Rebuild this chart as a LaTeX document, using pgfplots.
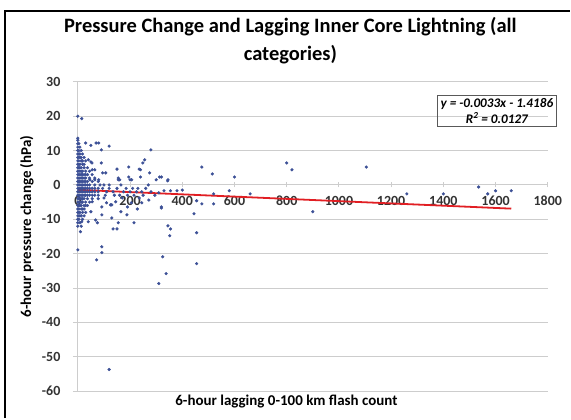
\documentclass[border=0pt]{standalone}
\usepackage{fontspec}
\setmainfont{Carlito}
\usepackage{pgfplots}
\pgfplotsset{compat=1.18}
\definecolor{pt}{RGB}{60,80,150}
\definecolor{gridc}{RGB}{205,205,205}
\definecolor{trend}{RGB}{225,30,35}
\begin{document}
\begin{tikzpicture}[x=1pt,y=1pt]
\path (-78,-27) rectangle (493,392);
\begin{axis}[at={(0,0)}, anchor=south west, scale only axis,
  width=471pt, height=310pt,
  xmin=0, xmax=1800, ymin=-60, ymax=30,
  xtick={0,200,...,1800}, ytick={-60,-50,...,30},
  axis x line=middle, axis y line=left,
  axis line style={-, draw=gridc, line width=0.9pt},
  ymajorgrids, grid style={draw=gridc, line width=0.9pt},
  tick style={draw=gridc, line width=0.9pt},
  major tick length=5pt,
  xtick align=center, ytick align=outside,
  hide obscured x ticks=false, hide obscured y ticks=false,
  xticklabel style={font=\fontsize{14}{16}\selectfont\bfseries, text=black!80, anchor=north, yshift=-5pt},
  yticklabel style={font=\fontsize{14}{16}\selectfont\bfseries, text=black!80, anchor=east, xshift=-9pt},
  /pgf/number format/assume math mode=true,
  /pgf/number format/1000 sep={},
  clip=false,
]
\addplot[only marks, mark=*, mark size=1.4pt, color=pt] coordinates {
(0,20) (15,19.3)
(0,13.6) (30,12.2) (50,11.5) (70,12.2) (80,12.2) (90,10.2) (120,11.3) (280,10.2)
(40,7.3) (90,6.4) (195,5.2) (150,4.6) (235,4.6) (55,4.4) (95,3.5) (155,2.0) (195,2.3) (240,2.3) (240,4.4) (275,3.5) (320,2.3) (300,1.5) (345,1.5) (155,1.5) (200,1.5)
(54,6.4) (256,7.3) (249,6.4) (107,3.5) (65,4.4) (313,2.3) (344,1.2) (160,1.5) (206,1.5) (46,1.5) (65,1.5) (80,1.5) (50,6.7)
(475,5.2) (515,3.2) (600,2.3) (800,6.4) (820,4.4) (1105,5.2)
(580,-1.7) (660,-2.6) (520,-2.6) (1260,-2.6) (1400,-2.6) (1535,-0.6) (1570,-2.6) (1600,-1.7) (1660,-1.7)
(330,-1.7) (355,-1.7) (380,-1.7) (400,-1.5) (310,-2.3)
(455,-4.6) (475,-5.5) (520,-5.5) (445,-8.4) (320,-6.7) (900,-7.8)
(345,-11.9) (355,-12.8) (352,-14.8) (455,-13.9)
(325,-20.9) (338,-25.8) (310,-28.7) (455,-22.9)
(120,-53.7)
(55,-4.9) (100,-3.8) (125,-5.8) (145,-4.9) (170,-3.8) (190,-6.4) (205,-5.2) (235,-3.8) (320,-6.4)
(10,-13.6) (0,-18.9) (72,-21.8) (92,-19.7) (92,-18) (135,-12.8) (150,-12.8) (155,-11) (215,-11) (130,-9.6) (75,-11) (68,-10.2) (40,-10.7) (15,-10.7)
(50,-7.8) (92,-8.7) (188,-8.7) (165,-7.8) (245,-5.2) (272,-4.4) (228,-7) (92,-6.4) (110,-5.2) (130,-5.8)
(0,13) (0,12) (0,11) (0,10) (0,9) (0,8) (0,7) (0,6) (0,5) (0,4) (0,3) (0,2) (0,1) (0,0) (0,-1) (0,-2) (0,-3) (0,-4) (0,-5) (0,-6) (0,-7) (0,-8) (0,-9) (0,-10) (0,-11) (0,-12)
(4,12) (4,10) (4,9) (4,8) (4,7) (4,6) (4,5) (4,4) (4,3) (4,2) (4,1) (4,0) (4,-1) (4,-2) (4,-3) (4,-4) (4,-5) (4,-6) (4,-7) (4,-8) (4,-9) (4,-10)
(8,11) (8,9) (8,8) (8,6) (8,5) (8,4) (8,3) (8,2) (8,1) (8,0) (8,-1) (8,-2) (8,-3) (8,-4) (8,-5) (8,-6) (8,-8) (8,-9) (8,-11)
(13,10) (13,8) (13,7) (13,5) (13,4) (13,3) (13,2) (13,1) (13,0) (13,-1) (13,-2) (13,-3) (13,-4) (13,-5) (13,-6) (13,-7) (13,-9) (13,-12)
(18,9) (18,7) (18,6) (18,4) (18,3) (18,2) (18,1) (18,0) (18,-1) (18,-2) (18,-3) (18,-4) (18,-5) (18,-7) (18,-8) (18,-10)
(24,8) (24,6) (24,5) (24,3) (24,2) (24,1) (24,0) (24,-1) (24,-2) (24,-3) (24,-4) (24,-6) (24,-7) (24,-9)
(30,7) (30,4) (30,3) (30,2) (30,1) (30,0) (30,-1) (30,-2) (30,-3) (30,-5) (30,-6) (30,-8)
(37,5) (37,3) (37,1) (37,0) (37,-1) (37,-2) (37,-3) (37,-4) (37,-6)
(45,4) (45,2) (45,0) (45,-1) (45,-2) (45,-3) (45,-5)
(55,3) (55,1) (55,-1) (55,-2) (55,-3) (55,-4)
(65,2) (65,0) (65,-1) (65,-2) (65,-3)
(78,1) (78,-1) (78,-2) (78,-3) (78,-4)
(95,-1) (110,-2) (120,-1) (135,-2) (150,-1) (160,-3) (175,-2) (185,-1) (200,-2) (215,-3) (230,-1) (245,-2) (260,-1) (280,-2) (295,-3)
(105,-3) (140,-3) (190,-3) (225,-2) (250,-3) (120,0) (165,0) (210,-1) (270,0) (100,0) (85,0)
};
\addplot[trend, line width=1.8pt, no marks] coordinates {(0,-1.4186) (1660,-6.8966)};
\node[draw=black!65, line width=0.8pt, font=\fontsize{13.2}{16}\selectfont\bfseries\itshape, align=center, inner sep=3pt] at (axis cs:1605,21.6) {y = -0.0033x - 1.4186\\R\textsuperscript{2} = 0.0127};
\end{axis}
\node[font=\fontsize{20.5}{24}\selectfont\bfseries] at (213,365) {Pressure Change and Lagging Inner Core Lightning (all};
\node[font=\fontsize{20.5}{24}\selectfont\bfseries] at (213,337) {categories)};
\node[rotate=90, font=\fontsize{15}{18}\selectfont\bfseries] at (-51,165) {6-hour pressure change (hPa)};
\node[font=\fontsize{15}{18}\selectfont\bfseries] at (209,-10) {6-hour lagging 0-100 km flash count};
\draw[line width=2.5pt] (-73,-27) -- (-73,381) -- (493,381);
\end{tikzpicture}
\end{document}
